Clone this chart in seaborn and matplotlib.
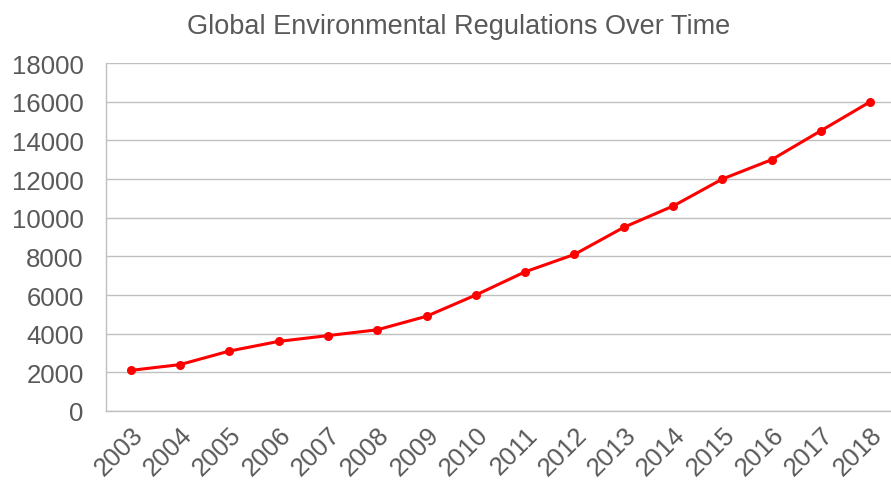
import pandas as pd
import matplotlib.pyplot as plt
import seaborn as sns

years = ['2003', '2004', '2005', '2006', '2007', '2008', '2009', '2010',
         '2011', '2012', '2013', '2014', '2015', '2016', '2017', '2018']
regulations = [2100, 2400, 3100, 3600, 3900, 4200, 4900, 6000,
               7200, 8100, 9500, 10600, 12000, 13000, 14500, 16000]
y_ticks = [0, 2000, 4000, 6000, 8000, 10000, 12000, 14000, 16000, 18000]

df = pd.DataFrame({'year': years, 'count': regulations})

sns.set_style('white')
plt.rcParams['font.family'] = ['Liberation Sans', 'DejaVu Sans']
grey = '#595959'

fig = plt.figure(figsize=(8.91, 4.89), dpi=100)
ax = fig.add_axes([106 / 891, 77 / 489, 789 / 891, 348 / 489])

sns.lineplot(data=df, x='year', y='count', ax=ax, color='#ff0000',
             linewidth=2.2, marker='o', markersize=6.5, markeredgewidth=0,
             sort=False)

ax.set_xlim(-0.5, len(years) - 0.5)
ax.set_ylim(0, 18000)
ax.set_yticks(y_ticks)
ax.set_yticklabels([str(t) for t in y_ticks])
ax.yaxis.grid(True, color='#bfbfbf', linewidth=1)
ax.set_axisbelow(True)

for side in ['top', 'right']:
    ax.spines[side].set_visible(False)
for side in ['left', 'bottom']:
    ax.spines[side].set_color('#bfbfbf')
    ax.spines[side].set_linewidth(1)

ax.tick_params(axis='both', colors='#bfbfbf', labelcolor=grey,
               labelsize=18.5, length=5, width=1, direction='out')
ax.tick_params(axis='y', pad=11)
ax.tick_params(axis='x', pad=3)
plt.setp(ax.get_xticklabels(), rotation=45, ha='right', rotation_mode='anchor')

ax.set_xlabel('')
ax.set_ylabel('')
fig.text(0.515, 0.945, 'Global Environmental Regulations Over Time',
         ha='center', va='center', fontsize=19.5, color=grey)

fig.savefig('out.png', dpi=100)
